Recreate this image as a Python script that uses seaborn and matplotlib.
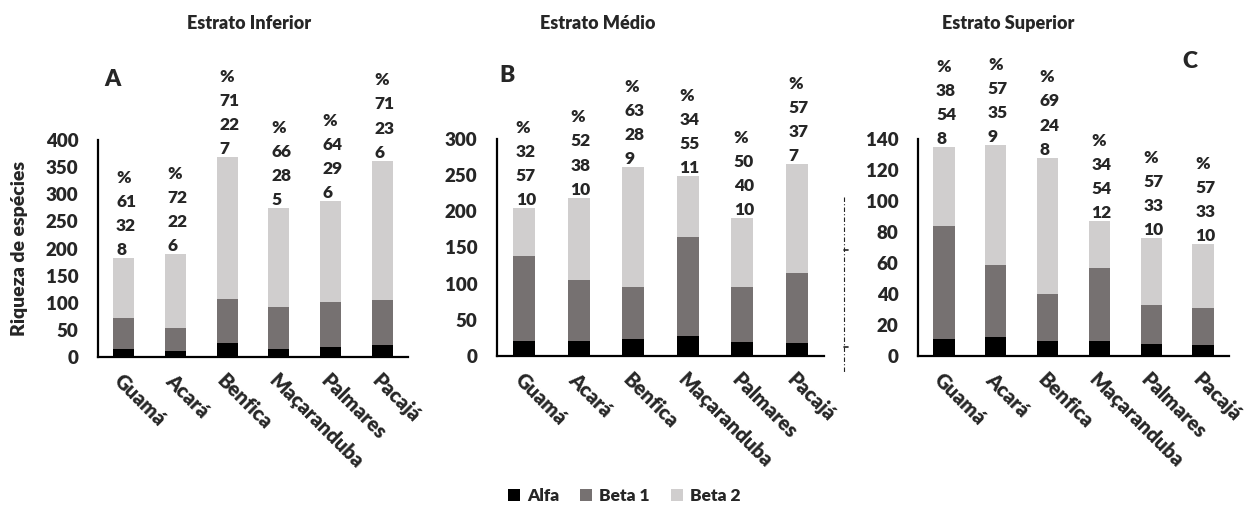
import numpy as np
import pandas as pd
import matplotlib
matplotlib.use("Agg")
import matplotlib.pyplot as plt
from matplotlib.patches import Patch
from matplotlib.lines import Line2D
import seaborn as sns

sites = ["Guamá", "Acará", "Benfica", "Maçaranduba", "Palmares", "Pacajá"]

# Species richness per diversity component (alfa, beta 1, beta 2)
inf_alfa = [14, 11, 25, 15, 18, 22]
inf_beta1 = [58, 42, 81, 78, 84, 83]
inf_beta2 = [111, 137, 263, 181, 185, 257]

med_alfa = [21, 21, 23, 27, 19, 18]
med_beta1 = [117, 84, 73, 137, 76, 97]
med_beta2 = [66, 114, 165, 85, 96, 150]

sup_alfa = [11, 12, 10, 10, 8, 7]
sup_beta1 = [73, 47, 30, 47, 25, 24]
sup_beta2 = [51, 77, 88, 30, 43, 41]

# Percentage shares printed above each bar (beta 2, beta 1, alfa)
inf_pct_beta2 = [61, 72, 71, 66, 64, 71]
inf_pct_beta1 = [32, 22, 22, 28, 29, 23]
inf_pct_alfa = [8, 6, 7, 5, 6, 6]

med_pct_beta2 = [32, 52, 63, 34, 50, 57]
med_pct_beta1 = [57, 38, 28, 55, 40, 37]
med_pct_alfa = [10, 10, 9, 11, 10, 7]

sup_pct_beta2 = [38, 57, 69, 34, 57, 57]
sup_pct_beta1 = [54, 35, 24, 54, 33, 33]
sup_pct_alfa = [8, 9, 8, 12, 10, 10]

titles = ["Estrato Inferior", "Estrato Médio", "Estrato Superior"]
letters = ["A", "B", "C"]
y_max = [400, 300, 140]
y_step = [50, 50, 20]
legend_labels = ["Alfa", "Beta 1", "Beta 2"]

C_ALFA = "#000000"
C_BETA1 = "#767171"
C_BETA2 = "#D0CECE"
WEIGHT = "heavy"

sns.set_style("white")
plt.rcParams["font.family"] = ["Lato", "DejaVu Sans"]
plt.rcParams["font.weight"] = WEIGHT

W, H = 1248, 509
fig = plt.figure(figsize=(W / 100, H / 100), dpi=100)


def px_rect(left, right, top, bottom):
    return [left / W, 1 - bottom / H, (right - left) / W, (bottom - top) / H]


axes_px = [(98, 408, 140, 357), (497, 824, 139, 356), (918, 1229, 139, 356)]
panels = [
    (inf_alfa, inf_beta1, inf_beta2, inf_pct_alfa, inf_pct_beta1, inf_pct_beta2),
    (med_alfa, med_beta1, med_beta2, med_pct_alfa, med_pct_beta1, med_pct_beta2),
    (sup_alfa, sup_beta1, sup_beta2, sup_pct_alfa, sup_pct_beta1, sup_pct_beta2),
]

BAR_W = 0.41

for k, (alfa, beta1, beta2, p_a, p_b1, p_b2) in enumerate(panels):
    ax = fig.add_axes(px_rect(*axes_px[k]))
    df = pd.DataFrame({"site": sites, "alfa": alfa, "beta1": beta1, "beta2": beta2})
    df["b1_top"] = df["alfa"] + df["beta1"]
    df["total"] = df["b1_top"] + df["beta2"]

    # stacked bars: draw the cumulative heights from back to front
    for col, color in [("total", C_BETA2), ("b1_top", C_BETA1), ("alfa", C_ALFA)]:
        sns.barplot(data=df, x="site", y=col, color=color, width=BAR_W,
                    saturation=1, linewidth=0, ax=ax, errorbar=None)

    for i, tot in enumerate(df["total"]):
        ax.annotate(f"%\n{p_b2[i]}\n{p_b1[i]}\n{p_a[i]}",
                    xy=(i - BAR_W / 2, tot), xytext=(2, 0),
                    textcoords="offset points", ha="left", va="bottom",
                    fontsize=12.5, fontweight=WEIGHT, linespacing=1.62,
                    annotation_clip=False)

    ax.set_xlim(-0.5, 5.5)
    ax.set_ylim(0, y_max[k])
    ax.set_yticks(np.arange(0, y_max[k] + 1, y_step[k]))
    ax.set_xlabel("")
    ax.set_ylabel("")
    sns.despine(ax=ax)
    for side in ("left", "bottom"):
        ax.spines[side].set_color("black")
        ax.spines[side].set_linewidth(1.6)
    ax.tick_params(axis="y", length=0, pad=14, labelsize=13.5)
    ax.tick_params(axis="x", length=0, pad=10, labelsize=14.5)
    for lab in ax.get_xticklabels() + ax.get_yticklabels():
        lab.set_fontweight(WEIGHT)
    plt.setp(ax.get_xticklabels(), rotation=-45, ha="left", va="top",
             rotation_mode="anchor")

title_x = [249, 598, 1008]
for k in range(3):
    fig.text(title_x[k] / W, 1 - 23.5 / H, titles[k], ha="center", va="center",
             fontsize=13, fontweight=WEIGHT)

letter_pos = [(112, 80), (507, 76), (1190, 62)]
for k in range(3):
    x, y = letter_pos[k]
    fig.text(x / W, 1 - y / H, letters[k], ha="center", va="center",
             fontsize=16.5, fontweight=WEIGHT)

fig.text(20 / W, 1 - 248 / H, "Riqueza de espécies", rotation=90,
         ha="center", va="center", fontsize=14, fontweight=WEIGHT)

# thin dash-dot separator between the middle and upper panels
fig.add_artist(Line2D([844 / W, 844 / W], [1 - 197 / H, 1 - 373 / H],
                      transform=fig.transFigure, color="#222222", lw=0.8,
                      linestyle=(0, (4, 2, 1, 2))))
for yy in (250, 347):
    fig.add_artist(Line2D([844 / W, 848 / W], [1 - yy / H, 1 - yy / H],
                          transform=fig.transFigure, color="#222222", lw=1.2))

handles = [Patch(facecolor=c, edgecolor="none") for c in (C_ALFA, C_BETA1, C_BETA2)]
fig.legend(handles, legend_labels, loc="center", bbox_to_anchor=(0.5, 1 - 496 / H),
           ncol=3, frameon=False, handlelength=0.7, handleheight=0.7,
           handletextpad=0.4, columnspacing=1.2,
           prop={"weight": WEIGHT, "size": 12.5})

fig.savefig("out.png", dpi=100)
